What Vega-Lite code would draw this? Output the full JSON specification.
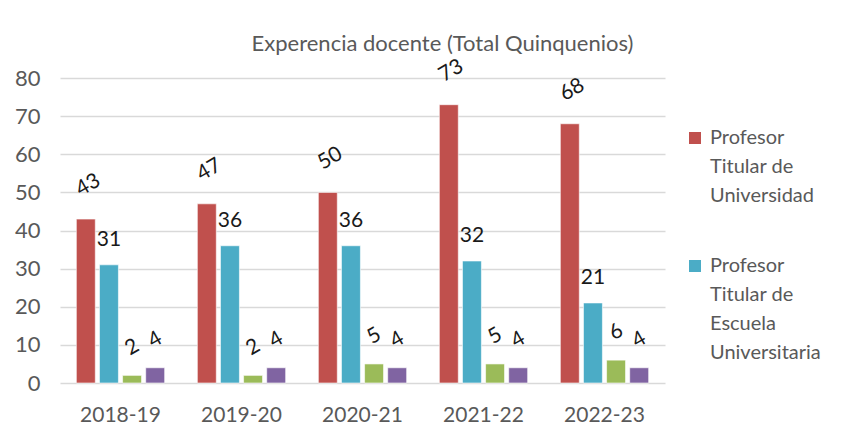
{
  "$schema": "https://vega.github.io/schema/vega-lite/v6.json",
  "width": 605,
  "height": 305,
  "autosize": {"type": "none"},
  "padding": {"left": 60, "top": 78, "right": 199, "bottom": 43},
  "background": "white",
  "title": {
    "text": "Experencia docente (Total Quinquenios)",
    "font": "Lato",
    "fontSize": 22,
    "fontWeight": "normal",
    "color": "#595959",
    "anchor": "middle",
    "dx": 80,
    "dy": 23,
    "offset": 22
  },
  "data": {
    "values": [
      {"curso": "2018-19", "categoria": "Profesor Titular de Universidad", "valor": 43},
      {"curso": "2018-19", "categoria": "Profesor Titular de Escuela Universitaria", "valor": 31},
      {"curso": "2018-19", "categoria": "Catedrático de Escuela Universitaria", "valor": 2},
      {"curso": "2018-19", "categoria": "Otros", "valor": 4},
      {"curso": "2019-20", "categoria": "Profesor Titular de Universidad", "valor": 47},
      {"curso": "2019-20", "categoria": "Profesor Titular de Escuela Universitaria", "valor": 36},
      {"curso": "2019-20", "categoria": "Catedrático de Escuela Universitaria", "valor": 2},
      {"curso": "2019-20", "categoria": "Otros", "valor": 4},
      {"curso": "2020-21", "categoria": "Profesor Titular de Universidad", "valor": 50},
      {"curso": "2020-21", "categoria": "Profesor Titular de Escuela Universitaria", "valor": 36},
      {"curso": "2020-21", "categoria": "Catedrático de Escuela Universitaria", "valor": 5},
      {"curso": "2020-21", "categoria": "Otros", "valor": 4},
      {"curso": "2021-22", "categoria": "Profesor Titular de Universidad", "valor": 73},
      {"curso": "2021-22", "categoria": "Profesor Titular de Escuela Universitaria", "valor": 32},
      {"curso": "2021-22", "categoria": "Catedrático de Escuela Universitaria", "valor": 5},
      {"curso": "2021-22", "categoria": "Otros", "valor": 4},
      {"curso": "2022-23", "categoria": "Profesor Titular de Universidad", "valor": 68},
      {"curso": "2022-23", "categoria": "Profesor Titular de Escuela Universitaria", "valor": 21},
      {"curso": "2022-23", "categoria": "Catedrático de Escuela Universitaria", "valor": 6},
      {"curso": "2022-23", "categoria": "Otros", "valor": 4}
    ]
  },
  "encoding": {
    "x": {
      "field": "curso",
      "type": "nominal",
      "scale": {"paddingInner": 0.27, "paddingOuter": 0.135},
      "axis": {
        "title": null,
        "labelAngle": 0,
        "domain": false,
        "ticks": false,
        "labelPadding": 21,
        "labelFont": "Lato",
        "labelFontSize": 21,
        "labelColor": "#595959"
      }
    },
    "xOffset": {
      "field": "categoria",
      "type": "nominal",
      "sort": ["Profesor Titular de Universidad", "Profesor Titular de Escuela Universitaria", "Catedrático de Escuela Universitaria", "Otros"],
      "scale": {"paddingInner": 0.18, "paddingOuter": 0}
    },
    "y": {
      "field": "valor",
      "type": "quantitative",
      "scale": {"domain": [0, 80]},
      "axis": {
        "title": null,
        "values": [0, 10, 20, 30, 40, 50, 60, 70, 80],
        "domain": false,
        "ticks": false,
        "labelPadding": 20,
        "labelFont": "Lato",
        "labelFontSize": 22,
        "labelColor": "#595959",
        "gridColor": "#d9d9d9",
        "gridWidth": 1.5
      }
    }
  },
  "layer": [
    {
      "mark": {"type": "bar", "stroke": "white", "strokeWidth": 0.6},
      "encoding": {
        "color": {
          "field": "categoria",
          "type": "nominal",
          "scale": {
            "domain": ["Profesor Titular de Universidad", "Profesor Titular de Escuela Universitaria", "Catedrático de Escuela Universitaria", "Otros"],
            "range": ["#C0504D", "#4BACC6", "#9BBB59", "#8064A2"]
          },
          "legend": {
            "title": null,
            "values": ["Profesor Titular de Universidad", "Profesor Titular de Escuela Universitaria"],
            "orient": "none",
            "legendX": 625,
            "legendY": 50,
            "symbolType": "square",
            "symbolSize": 144,
            "symbolStrokeWidth": 0,
            "labelFont": "Lato",
            "labelFontSize": 20,
            "labelColor": "#595959",
            "labelBaseline": "middle",
            "labelOffset": 5,
            "labelLimit": 200,
            "rowPadding": 50,
            "labelExpr": "datum.label == 'Profesor Titular de Universidad' ? ['Profesor', 'Titular de', 'Universidad'] : ['Profesor', 'Titular de', 'Escuela', 'Universitaria']"
          }
        }
      }
    },
    {
      "transform": [{"filter": "datum.categoria == 'Profesor Titular de Universidad'"}],
      "mark": {"type": "text", "angle": -30, "dx": 19, "dy": -28, "font": "Lato", "fontSize": 21, "color": "#1a1a1a", "baseline": "middle"},
      "encoding": {"text": {"field": "valor", "type": "quantitative"}}
    },
    {
      "transform": [{"filter": "datum.categoria == 'Profesor Titular de Escuela Universitaria'"}],
      "mark": {"type": "text", "dy": -25, "font": "Lato", "fontSize": 21, "color": "#1a1a1a", "baseline": "middle"},
      "encoding": {"text": {"field": "valor", "type": "quantitative"}}
    },
    {
      "transform": [{"filter": "datum.categoria == 'Catedrático de Escuela Universitaria' || datum.categoria == 'Otros'"}],
      "mark": {"type": "text", "angle": -30, "dx": 14, "dy": -24, "font": "Lato", "fontSize": 21, "color": "#1a1a1a", "baseline": "middle"},
      "encoding": {"text": {"field": "valor", "type": "quantitative"}}
    }
  ],
  "config": {
    "view": {"stroke": null},
    "style": {"guide-label": {"lineHeight": 29}}
  }
}
